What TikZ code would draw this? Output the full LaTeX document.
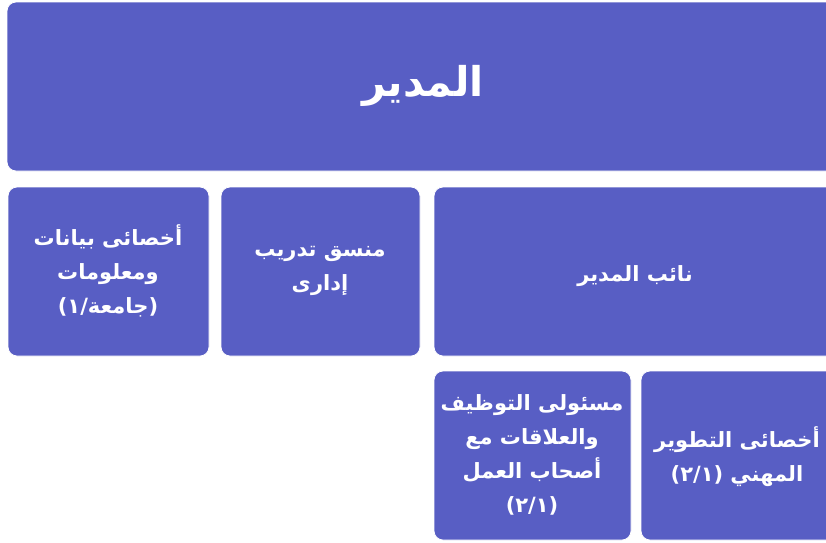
\documentclass[tikz,border=0pt]{standalone}
\usepackage{fontspec}
\newfontfamily\arabicfont[Script=Arabic]{DejaVu Sans}
\newfontfamily\plainfont{DejaVu Sans}
\TeXXeTstate=1
\definecolor{boxfill}{HTML}{585EC4}
\tikzset{
  orgbox/.style={fill=boxfill, draw=white, line width=0.8pt, rounded corners=9pt},
  lbl/.style={text=white, align=center, font=\arabicfont\bfseries\fontsize{21}{34}\selectfont, inner sep=0pt}
}
\newcommand{\brk}{\kern0pt\relax}
\newcommand{\twoone}{{\plainfont\bfseries(\brk٢\brk/\brk١\brk)}}
\begin{document}
\begin{tikzpicture}[x=1pt,y=-1pt]
\useasboundingbox (0,0) rectangle (826,542);
\fill[white] (0,0) rectangle (826,542);
\begin{scope}
\clip (0,0) rectangle (826,542);
\draw[orgbox] (7,2) rectangle (850,171);
\draw[orgbox] (8,187) rectangle (209,356);
\draw[orgbox] (221,187) rectangle (420,356);
\draw[orgbox] (434,187) rectangle (850,356);
\draw[orgbox] (434,371) rectangle (631,540);
\draw[orgbox] (641,371) rectangle (850,540);
\end{scope}
\node[lbl, font=\arabicfont\bfseries\fontsize{41}{46}\selectfont] (dir) at (423,86) {\beginR المدير\endR};
\node[lbl] (data) at (108,271) {\beginR أخصائى بيانات\endR\\\beginR ومعلومات\endR\\\beginL{\plainfont\bfseries(\brk١\brk/}\brk جامعة\brk{\plainfont\bfseries)}\endL};
\node[lbl] (train) at (320,271) {\beginR منسق تدريب\endR\\\beginR إدارى\endR};
\node[lbl] (deputy) at (635,276) {\beginR نائب المدير\endR};
\node[lbl] (employ) at (532,455) {\beginR مسئولى التوظيف\endR\\\beginR والعلاقات مع\endR\\\beginR أصحاب العمل\endR\\\beginL\twoone\endL};
\node[lbl] (career) at (737,457) {\beginR أخصائى التطوير\endR\\\beginL\twoone{} \brk المهني\endL};
\end{tikzpicture}
\end{document}
